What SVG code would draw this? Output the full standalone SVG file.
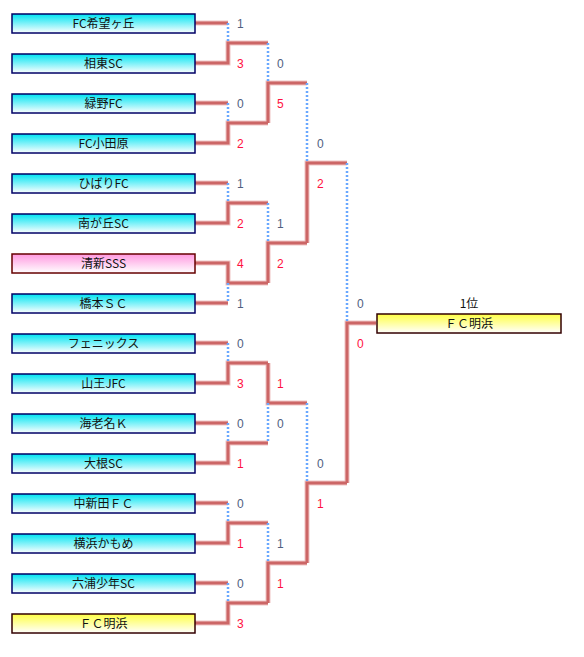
<svg xmlns="http://www.w3.org/2000/svg" xmlns:xlink="http://www.w3.org/1999/xlink" width="584" height="657" viewBox="0 0 584 657">
<defs>
<linearGradient id="gc" x1="0" y1="0" x2="0" y2="1"><stop offset="0" stop-color="#00e4f2"/><stop offset="1" stop-color="#ffffff"/></linearGradient>
<linearGradient id="gp" x1="0" y1="0" x2="0" y2="1"><stop offset="0" stop-color="#ff99e0"/><stop offset="1" stop-color="#ffffff"/></linearGradient>
<linearGradient id="gy" x1="0" y1="0" x2="0" y2="1"><stop offset="0" stop-color="#ffff44"/><stop offset="1" stop-color="#ffffff"/></linearGradient>
<path id="red" d="M195 23H228 M195 63H228V43H268 M195 103H228 M195 143H228V123H268 M195 183H228 M195 223H228V203H268 M195 263H228V283H268 M195 303H228 M195 343H228 M195 383H228V363H268 M195 423H228 M195 463H228V443H268 M195 503H228 M195 543H228V523H268 M195 583H228 M195 623H228V603H268 M268 123V83H307 M268 283V243H307 M268 363V403H307 M268 603V563H307 M307 243V163H347 M307 563V483H347 M347 483V323H376"/>
</defs>
<style>
.box text{font-family:"Noto Sans CJK JP","Liberation Sans",sans-serif;font-size:12px;fill:#111;text-anchor:middle}
.bc{fill:url(#gc);stroke:#000066;stroke-width:1.5}
.bp{fill:url(#gp);stroke:#660000;stroke-width:1.5}
.by{fill:url(#gy);stroke:#330000;stroke-width:1.5}
.halo{fill:none;stroke:#f0c4c4;stroke-width:5}
.line{fill:none;stroke:#cc6666;stroke-width:3}
.dot{fill:none;stroke:#6aa8ff;stroke-width:2.5;stroke-dasharray:2 2}
.s text{font-family:"Liberation Sans",sans-serif;font-size:12px}
.l{fill:#506080}
.w{fill:#ff1040}
.rank{font-family:"Noto Sans CJK JP","Liberation Sans",sans-serif;font-size:12px;fill:#111;text-anchor:middle}
</style>
<rect width="584" height="657" fill="#ffffff"/>
<g id="connectors">
<use xlink:href="#red" class="halo"/>
<use xlink:href="#red" class="line"/>
<path class="dot" d="M228 23V43 M228 103V123 M228 183V203 M228 283V303 M228 343V363 M228 423V443 M228 503V523 M228 583V603 M268 43V83 M268 203V243 M268 403V443 M268 523V563 M307 83V163 M307 403V483 M347 163V323"/>
</g>
<g id="node-1" class="box"><rect class="bc" x="12" y="14" width="183" height="19"/><text x="103.5" y="28">FC希望ヶ丘</text></g>
<g id="node-2" class="box"><rect class="bc" x="12" y="54" width="183" height="19"/><text x="103.5" y="68">相東SC</text></g>
<g id="node-3" class="box"><rect class="bc" x="12" y="94" width="183" height="19"/><text x="103.5" y="108">緑野FC</text></g>
<g id="node-4" class="box"><rect class="bc" x="12" y="134" width="183" height="19"/><text x="103.5" y="148">FC小田原</text></g>
<g id="node-5" class="box"><rect class="bc" x="12" y="174" width="183" height="19"/><text x="103.5" y="188">ひばりFC</text></g>
<g id="node-6" class="box"><rect class="bc" x="12" y="214" width="183" height="19"/><text x="103.5" y="228">南が丘SC</text></g>
<g id="node-7" class="box"><rect class="bp" x="12" y="254" width="183" height="19"/><text x="103.5" y="268">清新SSS</text></g>
<g id="node-8" class="box"><rect class="bc" x="12" y="294" width="183" height="19"/><text x="103.5" y="308">橋本ＳＣ</text></g>
<g id="node-9" class="box"><rect class="bc" x="12" y="334" width="183" height="19"/><text x="103.5" y="348">フェニックス</text></g>
<g id="node-10" class="box"><rect class="bc" x="12" y="374" width="183" height="19"/><text x="103.5" y="388">山王JFC</text></g>
<g id="node-11" class="box"><rect class="bc" x="12" y="414" width="183" height="19"/><text x="103.5" y="428">海老名Ｋ</text></g>
<g id="node-12" class="box"><rect class="bc" x="12" y="454" width="183" height="19"/><text x="103.5" y="468">大根SC</text></g>
<g id="node-13" class="box"><rect class="bc" x="12" y="494" width="183" height="19"/><text x="103.5" y="508">中新田ＦＣ</text></g>
<g id="node-14" class="box"><rect class="bc" x="12" y="534" width="183" height="19"/><text x="103.5" y="548">横浜かもめ</text></g>
<g id="node-15" class="box"><rect class="bc" x="12" y="574" width="183" height="19"/><text x="103.5" y="588">六浦少年SC</text></g>
<g id="node-16" class="box"><rect class="by" x="12" y="614" width="183" height="19"/><text x="103.5" y="628">ＦＣ明浜</text></g>
<g id="champion" class="box"><text class="rank" x="469" y="308">1位</text><rect class="by" x="377" y="314" width="184" height="19"/><text x="469" y="328">ＦＣ明浜</text></g>
<g id="scores" class="s">
<text class="l" x="237" y="28">1</text><text class="w" x="237" y="68">3</text>
<text class="l" x="237" y="108">0</text><text class="w" x="237" y="148">2</text>
<text class="l" x="237" y="188">1</text><text class="w" x="237" y="228">2</text>
<text class="w" x="237" y="268">4</text><text class="l" x="237" y="308">1</text>
<text class="l" x="237" y="348">0</text><text class="w" x="237" y="388">3</text>
<text class="l" x="237" y="428">0</text><text class="w" x="237" y="468">1</text>
<text class="l" x="237" y="508">0</text><text class="w" x="237" y="548">1</text>
<text class="l" x="237" y="588">0</text><text class="w" x="237" y="628">3</text>
<text class="l" x="277" y="68">0</text><text class="w" x="277" y="108">5</text>
<text class="l" x="277" y="228">1</text><text class="w" x="277" y="268">2</text>
<text class="w" x="277" y="388">1</text><text class="l" x="277" y="428">0</text>
<text class="l" x="277" y="548">1</text><text class="w" x="277" y="588">1</text>
<text class="l" x="317" y="148">0</text><text class="w" x="317" y="188">2</text>
<text class="l" x="317" y="468">0</text><text class="w" x="317" y="508">1</text>
<text class="l" x="357" y="308">0</text><text class="w" x="357" y="348">0</text>
</g>
</svg>
